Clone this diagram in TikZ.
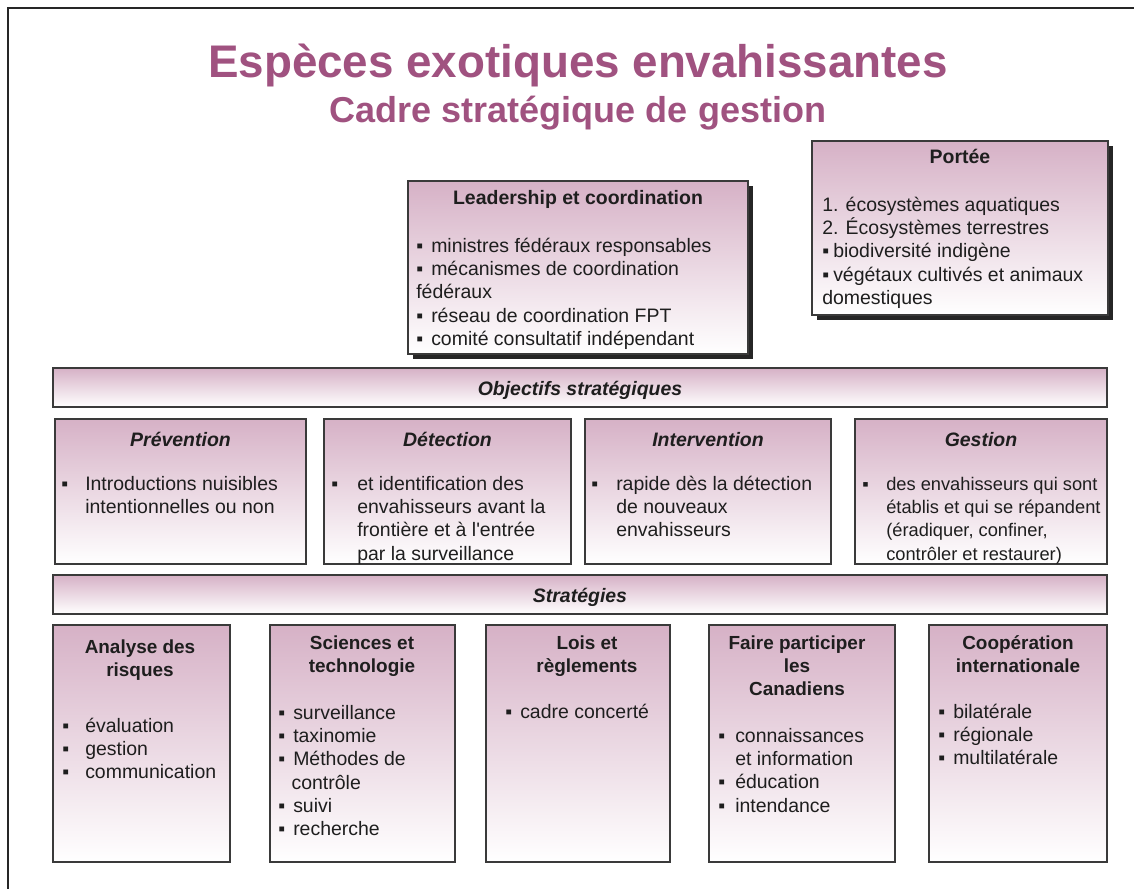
\documentclass[tikz,border=0pt]{standalone}
\usepackage{fontspec}
\setmainfont{Liberation Sans}[Ligatures=TeXOff]
\usetikzlibrary{fit}
\definecolor{titlecol}{HTML}{A05280}
\definecolor{mauve}{HTML}{D6B1C6}
\definecolor{edge}{HTML}{3A3A3A}
\definecolor{ink}{HTML}{1E1E1E}
\newcommand\firstln{\rule{0pt}{14pt}}
\newcommand\bu[1]{\makebox[#1][l]{▪}}
\newcommand\ind[1]{\hspace*{#1}}
\tikzset{
  panel/.style={draw=edge, line width=1.1pt, top color=mauve, bottom color=white, inner sep=0pt},
  castshadow/.style={fill=black!85, draw=none, inner sep=0pt},
  hd/.style={anchor=base, inner sep=0pt, text=ink, font=\fontsize{14.6}{17.5}\selectfont\bfseries},
  ihd/.style={anchor=base, inner sep=0pt, text=ink, font=\fontsize{14.6}{17.5}\selectfont\bfseries\itshape},
  shd/.style={anchor=north, inner sep=0pt, yshift=14pt, align=center, text=ink, font=\fontsize{14.2}{17.3}\selectfont\bfseries},
  body/.style={anchor=north west, inner sep=0pt, yshift=14pt, align=left, text=ink, font=\fontsize{14.6}{17.5}\selectfont},
  sbody/.style={body, font=\fontsize{13.7}{17.5}\selectfont},
}
\begin{document}
\begin{tikzpicture}[x=0.75pt, y=-0.75pt]
\useasboundingbox (0,0) rectangle (1134,888);
\fill[white] (0,0) rectangle (1134,888);
\draw[line width=1.5pt, black!85] (7.5,895) -- (7.5,8.5) -- (1140,8.5);

% title
\node[anchor=base, inner sep=0pt, text=titlecol, font=\fontsize{34.3}{40}\selectfont\bfseries] (title) at (578,78) {Espèces exotiques envahissantes};
\node[anchor=base, inner sep=0pt, text=titlecol, font=\fontsize{27}{32}\selectfont\bfseries] (subtitle) at (578,123) {Cadre stratégique de gestion};

% leadership
\node[castshadow, fit={(413,186) (753,359)}] (leadsh) {};
\node[panel, fit={(408,181) (748,354)}] (lead) {};
\node[hd] (leadhd) at (578,204) {Leadership et coordination};
\node[body] (leadtxt) at (416,252) {\firstln\bu{11.25pt}ministres fédéraux responsables\\ \bu{11.25pt}mécanismes de coordination\\ fédéraux\\ \bu{11.25pt}réseau de coordination FPT\\ \bu{11.25pt}comité consultatif indépendant};

% portee
\node[castshadow, fit={(817,146) (1113,320)}] (portsh) {};
\node[panel, fit={(812,141) (1108,315)}] (port) {};
\node[hd] (porthd) at (960,164) {Portée};
\node[body] (porttxt) at (822,211) {\firstln 1. écosystèmes aquatiques\\ 2. Écosystèmes terrestres\\ \bu{8.25pt}biodiversité indigène\\ \bu{8.25pt}végétaux cultivés et animaux\\ domestiques};

% objectifs
\node[panel, fit={(53,368) (1107,407)}] (objbar) {};
\node[ihd] (objhd) at (580,395) {Objectifs stratégiques};

\node[panel, fit={(55,419) (306,564)}] (prev) {};
\node[ihd] (prevhd) at (180.5,446) {Prévention};
\node[body] (prevtxt) at (61,490) {\firstln\bu{18pt}Introductions nuisibles\\ \ind{18pt}intentionnelles ou non};

\node[panel, fit={(324,419) (571,564)}] (dete) {};
\node[ihd] (detehd) at (447.5,446) {Détection};
\node[body] (detetxt) at (331,490) {\firstln\bu{19.5pt}et identification des\\ \ind{19.5pt}envahisseurs avant la\\ \ind{19.5pt}frontière et à l'entrée\\ \ind{19.5pt}par la surveillance};

\node[panel, fit={(585,419) (831,564)}] (inte) {};
\node[ihd] (intehd) at (708,446) {Intervention};
\node[body] (intetxt) at (591,490) {\firstln\bu{18.75pt}rapide dès la détection\\ \ind{18.75pt}de nouveaux\\ \ind{18.75pt}envahisseurs};

\node[panel, fit={(855,419) (1107,564)}] (gest) {};
\node[ihd] (gesthd) at (981,446) {Gestion};
\node[sbody] (gesttxt) at (862,490) {\firstln\bu{18pt}des envahisseurs qui sont\\ \ind{18pt}établis et qui se répandent\\ \ind{18pt}(éradiquer, confiner,\\ \ind{18pt}contrôler et restaurer)};

% strategies
\node[panel, fit={(53,575) (1107,614)}] (strbar) {};
\node[ihd] (strhd) at (580,602) {Stratégies};

\node[panel, fit={(53,625) (230,862)}] (anal) {};
\node[shd] (analhd) at (140,653) {\firstln Analyse des\\ risques};
\node[body] (analtxt) at (62,732) {\firstln\bu{17.25pt}évaluation\\ \bu{17.25pt}gestion\\ \bu{17.25pt}communication};

\node[panel, fit={(270,625) (455,862)}] (scie) {};
\node[shd] (sciehd) at (362,649) {\firstln Sciences et\\ technologie};
\node[body] (scietxt) at (278,719) {\firstln\bu{11.25pt}surveillance\\ \bu{11.25pt}taxinomie\\ \bu{11.25pt}Méthodes de\\ \ind{10pt}contrôle\\ \bu{11.25pt}suivi\\ \bu{11.25pt}recherche};

\node[panel, fit={(486,625) (670,862)}] (lois) {};
\node[shd] (loishd) at (587,649) {\firstln Lois et\\ règlements};
\node[body] (loistxt) at (505,718) {\firstln\bu{11.25pt}cadre concerté};

\node[panel, fit={(709,625) (895,862)}] (fair) {};
\node[shd] (fairhd) at (797,649) {\firstln Faire participer\\ les\\ Canadiens};
\node[body] (fairtxt) at (718,742) {\firstln\bu{12.75pt}connaissances\\ \ind{12.75pt}et information\\ \bu{12.75pt}éducation\\ \bu{12.75pt}intendance};

\node[panel, fit={(929,625) (1107,862)}] (coop) {};
\node[shd] (coophd) at (1018,649) {\firstln Coopération\\ internationale};
\node[body] (cooptxt) at (938,718) {\firstln\bu{11.25pt}bilatérale\\ \bu{11.25pt}régionale\\ \bu{11.25pt}multilatérale};
\end{tikzpicture}
\end{document}
